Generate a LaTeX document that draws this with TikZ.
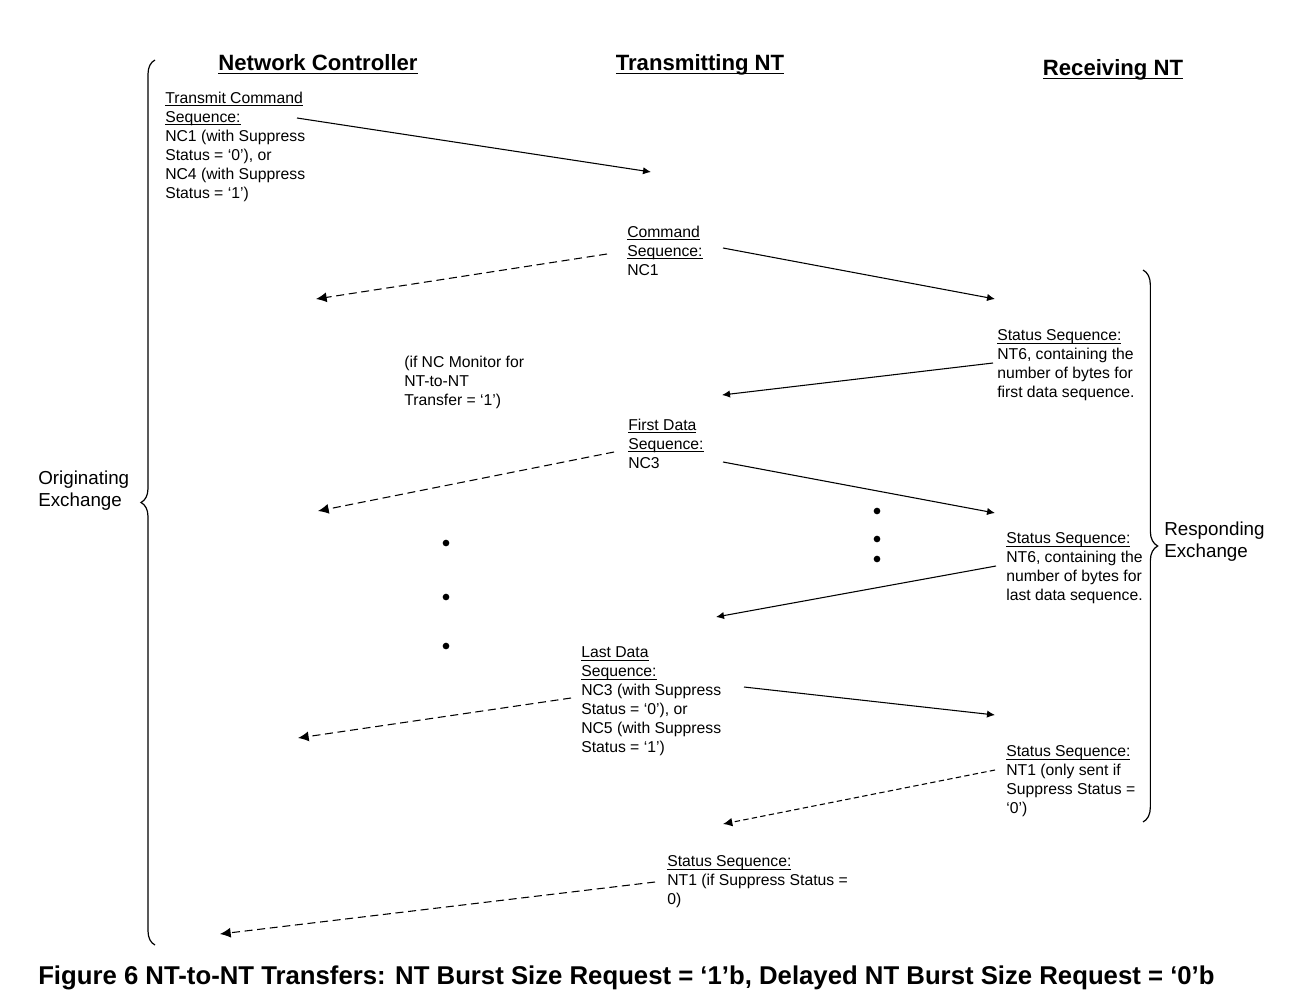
\documentclass[tikz,border=0pt]{standalone}
\usepackage{fontspec}
\setmainfont{Liberation Sans}
\usetikzlibrary{arrows.meta,decorations.pathreplacing}
\newcommand\bodyfnt{\fontsize{11.8}{14.25}\selectfont}
\newcommand\hdrfnt{\fontsize{16.6}{20}\selectfont\bfseries}
\newcommand\exfnt{\fontsize{14.1}{16.5}\selectfont}
\newcommand\capfnt{\fontsize{19.3}{23}\selectfont\bfseries}
\newcommand\bul[1]{\setbox0\hbox{#1}\rlap{\rule[-2.3pt]{\wd0}{0.6pt}}\box0}
\newcommand\hul[1]{\setbox0\hbox{#1}\rlap{\rule[-3.2pt]{\wd0}{1.3pt}}\box0}
\begin{document}
\begin{tikzpicture}[x=0.75pt,y=-0.75pt,
  lbl/.style={font=\bodyfnt,align=left,anchor=north west,inner sep=0pt},
  hdr/.style={font=\hdrfnt,anchor=base,inner sep=0pt},
  exlbl/.style={font=\exfnt,align=left,anchor=north west,inner sep=0pt},
  solidarr/.style={line width=0.8pt,-{Latex[length=6pt,width=5.5pt]}},
  dasharr/.style={line width=0.8pt,dash pattern=on 6pt off 3.5pt,-{Latex[length=8pt,width=7.5pt]}},
  finedash/.style={line width=0.8pt,dash pattern=on 4pt off 2.5pt,-{Latex[length=7pt,width=6.5pt]}},
  dotn/.style={circle,fill=black,inner sep=0pt,minimum size=5pt},
  bracestyle/.style={line width=0.9pt,decorate}]
\useasboundingbox (0,0) rectangle (1308,1006);

% headings
\node[hdr] (hNC) at (318,70) {\hul{Network Controller}};
\node[hdr] (hTX) at (700,70) {\hul{Transmitting NT}};
\node[hdr] (hRX) at (1113,75) {\hul{Receiving NT}};

% text blocks (top-left of first line)
\node[lbl] (tcs) at (165,91.5) {\bul{Transmit Command}\\\bul{Sequence:}\\NC1 (with Suppress\\Status = ‘0’), or\\NC4 (with Suppress\\Status = ‘1’)};
\node[lbl] (cs) at (627,225.5) {\bul{Command}\\\bul{Sequence:}\\NC1};
\node[lbl] (ss1) at (997,329.5) {\bul{Status Sequence:}\\NT6, containing the\\number of bytes for\\first data sequence.};
\node[lbl] (mon) at (404,355.5) {(if NC Monitor for\\NT-to-NT\\Transfer = ‘1’)};
\node[lbl] (fds) at (628,418.5) {\bul{First Data}\\\bul{Sequence:}\\NC3};
\node[lbl] (ss2) at (1006,532.5) {\bul{Status Sequence:}\\NT6, containing the\\number of bytes for\\last data sequence.};
\node[lbl] (lds) at (581,646.5) {\bul{Last Data}\\\bul{Sequence:}\\NC3 (with Suppress\\Status = ‘0’), or\\NC5 (with Suppress\\Status = ‘1’)};
\node[lbl] (ss3) at (1006,745.5) {\bul{Status Sequence:}\\NT1 (only sent if\\Suppress Status =\\‘0’)};
\node[lbl] (ss4) at (667,855.5) {\bul{Status Sequence:}\\NT1 (if Suppress Status =\\0)};

\node[exlbl] (orig) at (38,470.5) {Originating\\Exchange};
\node[exlbl] (resp) at (1164,521.5) {Responding\\Exchange};

\node[font=\capfnt,anchor=base west,inner sep=0pt] (cap) at (38,984) {Figure 6 NT-to-NT Transfers: NT Burst Size Request = ‘1’b, Delayed NT Burst Size Request = ‘0’b};

% braces
\coordinate (lbA) at (155,945);
\coordinate (lbB) at (155,60);
\draw[bracestyle,decoration={brace,amplitude=10.5pt}] (lbA) -- (lbB);
\coordinate (rbA) at (1143,270);
\coordinate (rbB) at (1143,822);
\draw[bracestyle,decoration={brace,amplitude=11pt}] (rbA) -- (rbB);

% arrow end points
\coordinate (a1s) at (297,118);  \coordinate (a1e) at (651,172);
\coordinate (a2s) at (607,254);  \coordinate (a2e) at (316,299);
\coordinate (a3s) at (723,248);  \coordinate (a3e) at (995,299);
\coordinate (a4s) at (993,363);  \coordinate (a4e) at (722,395);
\coordinate (a5s) at (614,452);  \coordinate (a5e) at (318,511);
\coordinate (a6s) at (723,462);  \coordinate (a6e) at (995,513);
\coordinate (a7s) at (996,566);  \coordinate (a7e) at (716,617);
\coordinate (a8s) at (744,687);  \coordinate (a8e) at (995,715);
\coordinate (a9s) at (571,698);  \coordinate (a9e) at (298,738);
\coordinate (a10s) at (995,770); \coordinate (a10e) at (723,824);
\coordinate (a11s) at (655,882); \coordinate (a11e) at (220,934);

\draw[solidarr] (a1s) -- (a1e);
\draw[dasharr] (a2s) -- (a2e);
\draw[solidarr] (a3s) -- (a3e);
\draw[solidarr] (a4s) -- (a4e);
\draw[dasharr] (a5s) -- (a5e);
\draw[solidarr] (a6s) -- (a6e);
\draw[solidarr] (a7s) -- (a7e);
\draw[solidarr] (a8s) -- (a8e);
\draw[dasharr] (a9s) -- (a9e);
\draw[finedash] (a10s) -- (a10e);
\draw[dasharr] (a11s) -- (a11e);

% dots
\node[dotn] (d1) at (446,543) {};
\node[dotn] (d2) at (446,597) {};
\node[dotn] (d3) at (446,646) {};
\node[dotn] (d4) at (877,511) {};
\node[dotn] (d5) at (877,539) {};
\node[dotn] (d6) at (877,559) {};
\end{tikzpicture}
\end{document}
